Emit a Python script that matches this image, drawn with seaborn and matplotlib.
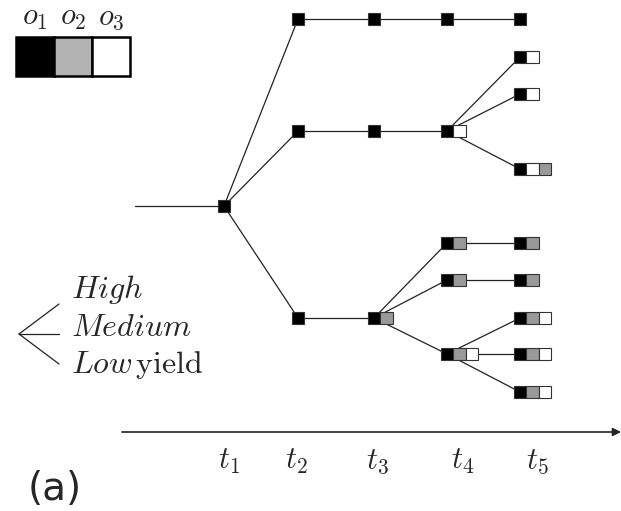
import matplotlib
matplotlib.use("Agg")
import matplotlib.pyplot as plt
from matplotlib.patches import Rectangle
import seaborn as sns
import pandas as pd

sns.set_style("white")
plt.rcParams['font.family'] = ['DejaVu Sans']
plt.rcParams['mathtext.fontset'] = 'cm'

# option colours: o1, o2, o3
option_colors = {"1": "black", "2": "#999999", "3": "white"}
legend_colors = ["black", "#b3b3b3", "white"]
legend_labels = [r"$o_1$", r"$o_2$", r"$o_3$"]

# time stages (pixel layout of the diagram)
stage_x = [224, 298, 374, 447, 520]
stage_labels = [r"$t_1$", r"$t_2$", r"$t_3$", r"$t_4$", r"$t_5$"]
stage_label_x = [229, 296, 377, 463, 537]

# scenario tree nodes
node_stage = [0, 1, 1, 1, 2, 2, 2, 3, 3, 3, 3, 3, 4, 4, 4, 4, 4, 4, 4, 4, 4]
node_y = [206, 19, 131, 318, 19, 131, 318, 19, 131, 243, 280, 354,
          19, 57, 94, 169, 243, 280, 318, 354, 392]
node_opts = ["1", "1", "1", "1", "1", "1", "12", "1", "13", "12", "12", "123",
             "1", "13", "13", "132", "12", "12", "123", "123", "123"]

edge_from = [0, 0, 0, 1, 2, 3, 4, 5, 6, 6, 6, 7, 8, 8, 8, 9, 10, 11, 11, 11]
edge_to = [1, 2, 3, 4, 5, 6, 7, 8, 9, 10, 11, 12, 13, 14, 15, 16, 17, 18, 19, 20]

yield_labels = [r"$High$", r"$Medium$", r"$Low\,\mathrm{yield}$"]

W, H = 621, 511
fig = plt.figure(figsize=(W / 100, H / 100), dpi=100)
ax = fig.add_axes([0, 0, 1, 1])

# edges of the tree
rows = []
for k, (a, b) in enumerate(zip(edge_from, edge_to)):
    rows.append({"edge": k, "x": stage_x[node_stage[a]], "y": node_y[a]})
    rows.append({"edge": k, "x": stage_x[node_stage[b]], "y": node_y[b]})
rows.append({"edge": -1, "x": 135, "y": node_y[0]})
rows.append({"edge": -1, "x": stage_x[0], "y": node_y[0]})
edges = pd.DataFrame(rows)
sns.lineplot(data=edges, x="x", y="y", units="edge", estimator=None, sort=False,
             color="#222222", linewidth=0.9, ax=ax, zorder=1)
ax.set_xlim(0, W)
ax.set_ylim(H, 0)
ax.axis("off")

# node squares
sq = 12.5
for s, y, opts in zip(node_stage, node_y, node_opts):
    x0 = stage_x[s] - sq / 2
    for j, o in enumerate(opts):
        ax.add_patch(Rectangle((x0 + j * sq, y - sq / 2), sq, sq,
                               facecolor=option_colors[o], edgecolor="#333333",
                               linewidth=0.8, zorder=3))

# legend of options
lw_box = 38
for j, (c, lab) in enumerate(zip(legend_colors, legend_labels)):
    ax.add_patch(Rectangle((16 + j * lw_box, 37), lw_box, 39, facecolor=c,
                           edgecolor="black", linewidth=1.8, zorder=3))
    ax.text(16 + j * lw_box + lw_box / 2, 17, lab, fontsize=22,
            ha="center", va="center")

# yield fan
for y in [304, 334, 364]:
    ax.plot([19, 59], [334, y], color="#222222", linewidth=0.9)
for y, lab in zip([290, 327, 365], yield_labels):
    ax.text(71, y, lab, fontsize=23, ha="left", va="center")

# time axis
ax.annotate("", xy=(621, 432), xytext=(122, 432),
            arrowprops=dict(arrowstyle="-|>", color="#222222", lw=1.2,
                            mutation_scale=12, shrinkA=0, shrinkB=0))
for x, lab in zip(stage_label_x, stage_labels):
    ax.text(x, 461, lab, fontsize=22, ha="center", va="center")

ax.text(28, 489, "(a)", fontsize=28, ha="left", va="center")

fig.savefig("out.png", dpi=100)
